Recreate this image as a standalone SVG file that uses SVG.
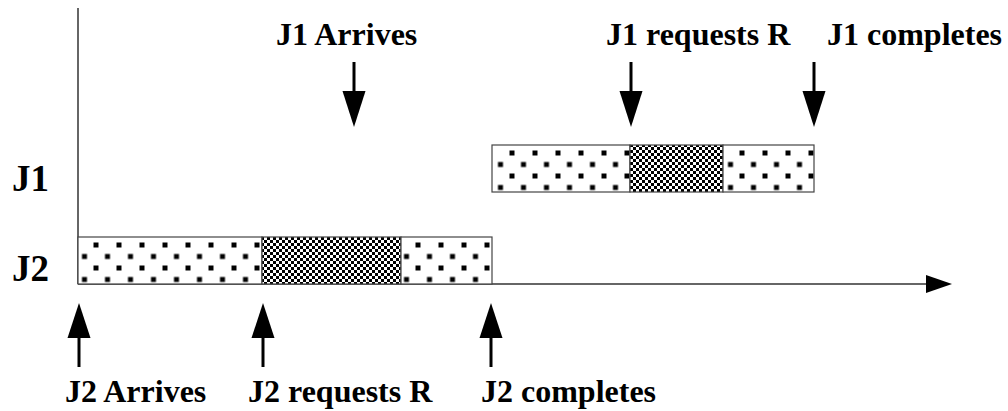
<svg xmlns="http://www.w3.org/2000/svg" width="1008" height="411" viewBox="0 0 1008 411">
<style>
text{font-family:"Liberation Serif","Times New Roman",serif;font-weight:bold;font-size:32px;fill:#000}
text.row{font-size:37px}
.axis{stroke:#333;stroke-width:1.5;fill:none}
.bar{stroke:#444;stroke-width:1.2}
.arr{stroke:#000;stroke-width:3;fill:none}
.head{fill:#000}
</style>
<defs>
<pattern id="dotsJ2" patternUnits="userSpaceOnUse" x="93.5" y="242.5" width="23" height="23">
<rect width="23" height="23" fill="#fff"/>
<rect x="0" y="0" width="5" height="5" fill="#000"/>
<rect x="11.5" y="11.5" width="5" height="5" fill="#000"/>
</pattern>
<pattern id="dotsJ1" patternUnits="userSpaceOnUse" x="509.5" y="150.5" width="23" height="23">
<rect width="23" height="23" fill="#fff"/>
<rect x="0" y="0" width="5" height="5" fill="#000"/>
<rect x="11.5" y="11.5" width="5" height="5" fill="#000"/>
</pattern>
<pattern id="checker" patternUnits="userSpaceOnUse" width="6" height="6">
<rect width="6" height="6" fill="#fff"/>
<rect x="0" y="0" width="3" height="3" fill="#000"/>
<rect x="3" y="3" width="3" height="3" fill="#000"/>
</pattern>
<marker id="axisHead" viewBox="0 0 26 18" refX="0" refY="9" markerWidth="26" markerHeight="18" markerUnits="userSpaceOnUse" orient="auto">
<path d="M0,0 L26,9 L0,18 Z" fill="#000"/>
</marker>
</defs>

<g id="axes">
<line class="axis" x1="78" y1="8" x2="78" y2="284"/>
<line class="axis" x1="78" y1="284" x2="926" y2="284" marker-end="url(#axisHead)"/>
</g>

<g id="J1-row">
<text class="row" x="12" y="191">J1</text>
<rect class="bar" x="492" y="145" width="138" height="47" fill="url(#dotsJ1)"/>
<rect class="bar" x="630" y="145" width="93" height="47" fill="url(#checker)"/>
<rect class="bar" x="723" y="145" width="91" height="47" fill="url(#dotsJ1)"/>
</g>

<g id="J2-row">
<text class="row" x="12" y="281">J2</text>
<rect class="bar" x="78" y="237" width="184" height="47" fill="url(#dotsJ2)"/>
<rect class="bar" x="262" y="237" width="139" height="47" fill="url(#checker)"/>
<rect class="bar" x="401" y="237" width="91" height="47" fill="url(#dotsJ2)"/>
</g>

<g id="connectors">
<line class="arr" x1="354" y1="62" x2="354" y2="93"/>
<path class="head" d="M342.5,91 L365.5,91 L354,127 Z"/>
<line class="arr" x1="631" y1="62" x2="631" y2="93"/>
<path class="head" d="M619.5,91 L642.5,91 L631,127 Z"/>
<line class="arr" x1="814" y1="62" x2="814" y2="93"/>
<path class="head" d="M802.5,91 L825.5,91 L814,127 Z"/>
<line class="arr" x1="79" y1="335" x2="79" y2="367"/>
<path class="head" d="M67.5,338 L90.5,338 L79,303 Z"/>
<line class="arr" x1="263" y1="335" x2="263" y2="367"/>
<path class="head" d="M251.5,338 L274.5,338 L263,303 Z"/>
<line class="arr" x1="491" y1="335" x2="491" y2="367"/>
<path class="head" d="M479.5,338 L502.5,338 L491,303 Z"/>
</g>

<g id="labels">
<text x="276" y="45">J1 Arrives</text>
<text x="606" y="45">J1 requests R</text>
<text x="827" y="45">J1 completes</text>
<text x="65" y="402">J2 Arrives</text>
<text x="248" y="402">J2 requests R</text>
<text x="481" y="402">J2 completes</text>
</g>
</svg>
